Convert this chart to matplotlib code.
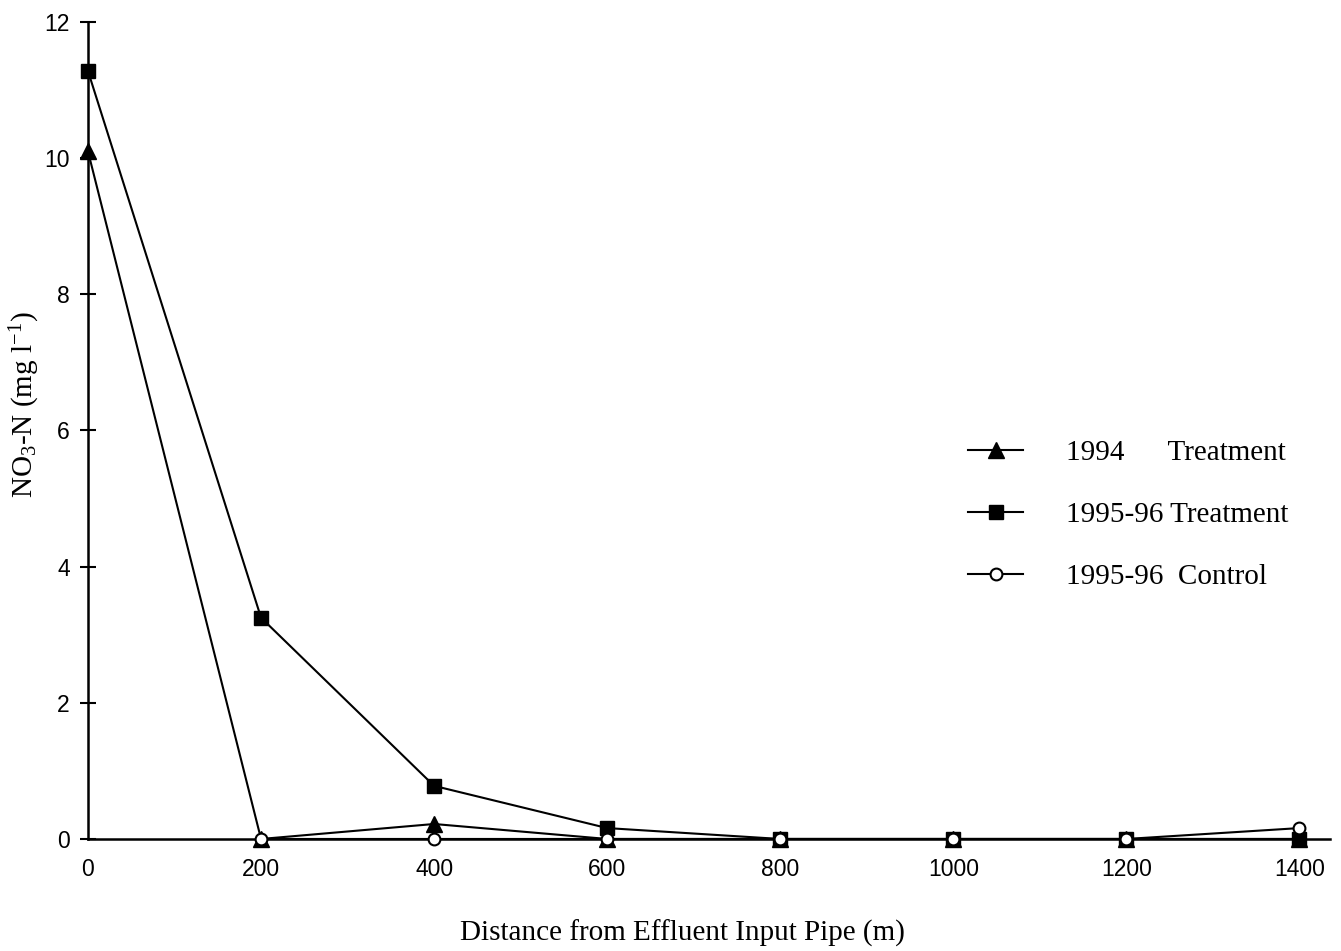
import matplotlib
matplotlib.use('Agg')
import matplotlib.pyplot as plt

plt.rcParams['mathtext.fontset'] = 'custom'
plt.rcParams['mathtext.rm'] = 'Liberation Serif'
plt.rcParams['mathtext.it'] = 'Liberation Serif'

# distance from effluent input pipe (m)
dist = [0, 200, 400, 600, 800, 1000, 1200, 1400]
treat_1994 = [10.1, 0.0, 0.22, 0.0, 0.0, 0.0, 0.0, 0.0]
treat_9596 = [11.28, 3.25, 0.78, 0.16, 0.0, 0.0, 0.0, 0.0]
ctrl_dist = [200, 400, 600, 800, 1000, 1200, 1400]
ctrl_9596 = [0.0, 0.0, 0.0, 0.0, 0.0, 0.0, 0.16]

labels = ['1994      Treatment', '1995-96 Treatment', '1995-96  Control']
yticks = [0, 2, 4, 6, 8, 10, 12]
xticks = [0, 200, 400, 600, 800, 1000, 1200, 1400]

fig = plt.figure(figsize=(13.41, 9.51), dpi=100)
ax = fig.add_axes([0.0656, 0.1178, 0.926, 0.8591])

ax.plot(dist, treat_1994, color='black', lw=1.5, marker='^', ms=11,
        mfc='black', mec='black', label=labels[0], zorder=3, clip_on=False)
ax.plot(dist, treat_9596, color='black', lw=1.5, marker='s', ms=10,
        mfc='black', mec='black', label=labels[1], zorder=3, clip_on=False)
ax.plot(ctrl_dist, ctrl_9596, color='black', lw=1.5, marker='o', ms=8.5,
        mfc='white', mec='black', mew=1.5, label=labels[2], zorder=4, clip_on=False)

ax.set_xlim(0, 1435)
ax.set_ylim(0, 12)
ax.set_xticks(xticks)
ax.set_yticks(yticks)
ax.spines['top'].set_visible(False)
ax.spines['right'].set_visible(False)
ax.spines['left'].set_linewidth(1.8)
ax.spines['bottom'].set_linewidth(1.8)
ax.tick_params(axis='y', direction='inout', length=12, width=1.5, pad=7,
               labelsize=16.5)
ax.tick_params(axis='x', length=0, pad=14, labelsize=16.5)
for t in ax.get_xticklabels() + ax.get_yticklabels():
    t.set_fontfamily('Liberation Sans')

ax.set_xlabel('Distance from Effluent Input Pipe (m)', family='Liberation Serif',
              fontsize=21)
ax.xaxis.set_label_coords(0.479, -0.115)
ax.xaxis.label.set_va('center')
ax.set_ylabel('NO$_3$-N (mg l$^{\\mathrm{-1}}$)', family='Liberation Serif',
              fontsize=21)
ax.yaxis.set_label_coords(-0.051, 0.531)
ax.yaxis.label.set_va('center')

leg = ax.legend(loc='center left', bbox_to_anchor=(968 / 1341, 1 - 515 / 951),
                bbox_transform=fig.transFigure, frameon=False,
                borderpad=0, borderaxespad=0,
                prop={'family': 'Liberation Serif', 'size': 21},
                handlelength=1.9, handletextpad=1.45, labelspacing=1.23)

fig.savefig('out.png', dpi=100)
